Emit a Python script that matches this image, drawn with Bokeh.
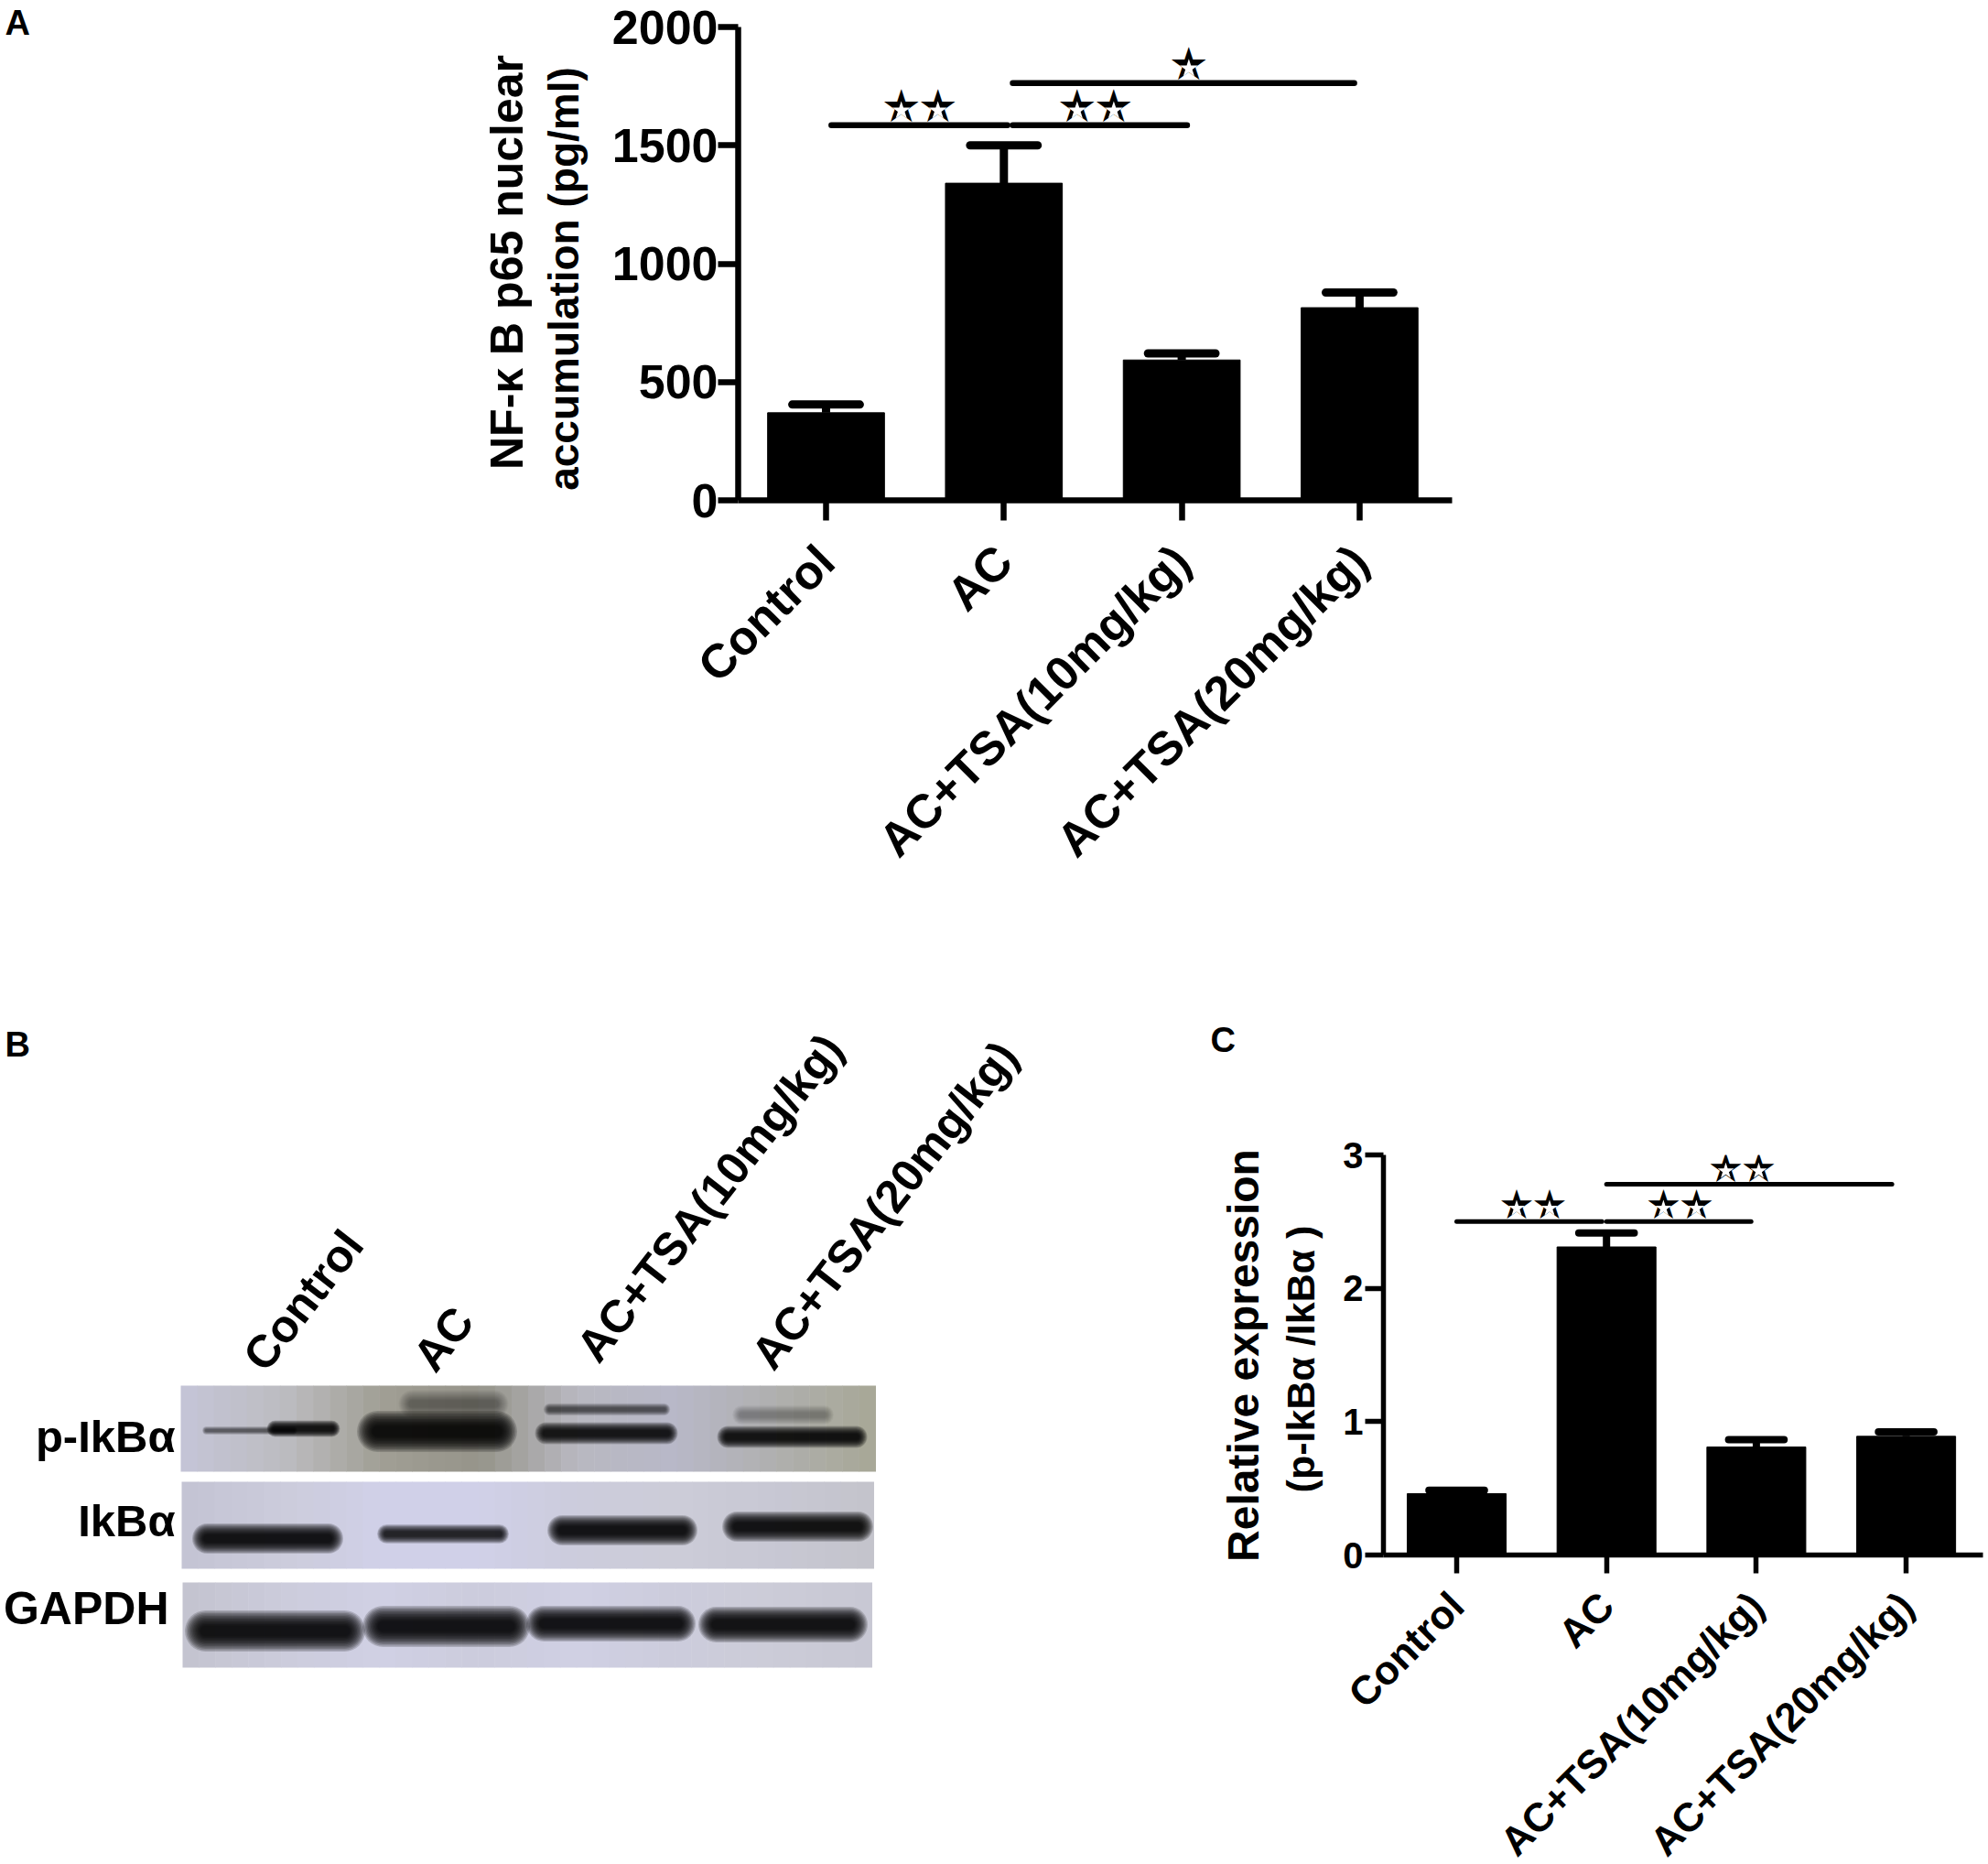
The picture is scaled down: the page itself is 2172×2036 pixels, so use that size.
from math import pi
from bokeh.plotting import figure
from bokeh.layouts import column, row
from bokeh.models import Label, Range1d, FixedTicker
from bokeh.embed import file_html
from bokeh.resources import INLINE

categories = ["Control", "AC", "AC+TSA(10mg/kg)", "AC+TSA(20mg/kg)"]
a_values = [370, 1340, 593, 814]
a_upper = [405, 1500, 621, 878]
a_ticks = [0, 500, 1000, 1500, 2000]
c_values = [0.46, 2.31, 0.81, 0.89]
c_upper = [0.486, 2.415, 0.865, 0.923]
c_ticks = [0, 1, 2, 3]

a_brackets = [(0.03, 1.02, 1585), (1.05, 2.03, 1585), (1.05, 2.97, 1763)]
a_stars = [(0.526, 1585, 2), (1.515, 1585, 2), (2.04, 1763, 1)]
c_brackets = [(0.0, 0.97, 2.50), (1.0, 1.965, 2.50), (1.0, 2.905, 2.78)]
c_stars = [(0.51, 2.50, 2), (1.49, 2.50, 2), (1.906, 2.78, 2)]

FONT = "Liberation Sans"


def bar_panel(width, height, ox, oy, fl, fr, ft, fb, c0, spacing, ymax, values, upper, ticks,
              bar_w, cap_w, axis_lw, err_lw, br_lw, tick_len, tick_font, label_font,
              brackets, stars, star_font, standoff, ystandoff):
    xr = Range1d((fl - c0) / spacing, (fr - c0) / spacing)
    yr = Range1d(0, ymax)
    p = figure(width=width, height=height, x_range=xr, y_range=yr, output_backend="svg",
               toolbar_location=None, min_border_left=fl - ox, min_border_right=ox + width - fr,
               min_border_top=ft - oy, min_border_bottom=oy + height - fb, align="start")
    p.grid.visible = False
    p.outline_line_color = None
    xs = list(range(len(values)))
    p.vbar(x=xs, top=values, bottom=0, width=bar_w, color="black")
    p.segment(x0=xs, y0=values, x1=xs, y1=upper, line_width=err_lw, color="black")
    p.segment(x0=[i - cap_w / 2 for i in xs], y0=upper, x1=[i + cap_w / 2 for i in xs], y1=upper,
              line_width=err_lw, color="black", line_cap="round")
    p.segment(x0=[b[0] for b in brackets], x1=[b[1] for b in brackets],
              y0=[b[2] for b in brackets], y1=[b[2] for b in brackets],
              line_width=br_lw, color="black", line_cap="round")
    # significance stars: real text, with a white core so they read as thick outlined stars
    per_px = ymax / (fb - ft)
    adv = star_font
    cx, cy = [], []
    for x, y, n in stars:
        p.add_layout(Label(x=x, y=y, text="★" * n, text_font="Noto Sans CJK SC", text_font_style="bold",
                           text_font_size=f"{star_font}px", text_align="center", text_baseline="bottom",
                           text_color="black", y_offset=-5))
        for k in range(n):
            cx.append(x + (k - (n - 1) / 2) * adv / spacing)
            cy.append(y + 0.40 * star_font * per_px)
    p.scatter(x=cx, y=cy, marker="star", size=star_font * 0.52, fill_color="white", line_color=None,
              level="overlay")
    xa, ya = p.xaxis[0], p.yaxis[0]
    xa.ticker = FixedTicker(ticks=xs)
    xa.major_label_overrides = {i: c for i, c in enumerate(categories)}
    xa.major_label_orientation = pi / 4
    xa.major_label_standoff = standoff
    xa.major_label_text_font = FONT
    xa.major_label_text_font_style = "bold"
    xa.major_label_text_font_size = f"{label_font}px"
    xa.major_label_text_color = "black"
    ya.ticker = FixedTicker(ticks=ticks)
    ya.major_label_text_font = FONT
    ya.major_label_text_font_style = "bold"
    ya.major_label_text_font_size = f"{tick_font}px"
    ya.major_label_text_color = "black"
    ya.major_label_standoff = ystandoff
    for ax in (xa, ya):
        ax.axis_line_width = axis_lw
        ax.axis_line_color = "black"
        ax.major_tick_line_width = axis_lw
        ax.major_tick_line_color = "black"
        ax.major_tick_in = 0
        ax.major_tick_out = tick_len
        ax.minor_tick_line_color = None
    p.background_fill_color = "white"
    return p


def px_label(p, fx, fy, x, y, text, size, angle=0, bold=True, align="center"):
    p.add_layout(Label(x=fx(x), y=fy(y), text=text, text_font=FONT,
                       text_font_style="bold" if bold else "normal",
                       text_font_size=f"{size}px", angle=angle, angle_units="deg",
                       text_align=align, text_baseline="middle", text_color="black"), "left")


# ---------- Panel A ----------
pA = bar_panel(2172, 1090, 0, 0, 806, 1586, 29, 546, 902, 194.3, 2000, a_values, a_upper, a_ticks,
               0.657, 0.38, 6.5, 9, 6.5, 22, 52, 52, a_brackets, a_stars, 40, 36, 0)
fxa = lambda x: (x - 902) / 194.3
fya = lambda y: (546 - y) / 517 * 2000
px_label(pA, fxa, fya, 553, 286, "NF-κ B p65 nuclear", 50, 90)
px_label(pA, fxa, fya, 615, 304, "accumulation (pg/ml)", 46, 90)
px_label(pA, fxa, fya, 5, 24, "A", 38, align="left")

# ---------- Panel B: blot image drawn as shaded strips ----------
strip_labels = ["p-IkBα", "IkBα", "GAPDH"]
label_y = [1568, 1660, 1756]
strip_top = [1513, 1618, 1728]
strip_bot = [1607, 1713, 1821]
strip_left = [197, 198, 199]
strip_right = [956, 954, 952]
anchor_colors = [
    [(196, 196, 214), (188, 188, 192), (160, 158, 148), (150, 148, 138), (184, 184, 192), (184, 184, 200), (176, 176, 176), (168, 168, 152)],
    [(196, 196, 212), (204, 204, 220), (208, 208, 232), (208, 208, 232), (204, 204, 220), (204, 204, 216), (200, 200, 212), (196, 196, 204)],
    [(196, 196, 208), (204, 204, 220), (208, 208, 228), (204, 204, 220), (208, 208, 228), (204, 204, 220), (204, 204, 216), (200, 200, 212)],
]
# x start, x end, y, thickness, darkness
bands = [
    (225, 320, 1562, 6, 0.35), (300, 362, 1560, 12, 0.95),
    (412, 542, 1563, 30, 1.0), (450, 540, 1533, 20, 0.2),
    (596, 728, 1565, 16, 0.9), (600, 725, 1539, 9, 0.4),
    (795, 935, 1569, 16, 0.95), (810, 900, 1545, 14, 0.15),
    (226, 358, 1680, 22, 1.0), (422, 545, 1675, 14, 0.75),
    (614, 745, 1671, 22, 1.0), (805, 937, 1667, 22, 1.0),
    (224, 376, 1781, 30, 1.0), (418, 556, 1776, 30, 1.0),
    (594, 740, 1773, 26, 1.0), (782, 928, 1774, 26, 1.0),
]

pB = figure(width=1125, height=978, x_range=Range1d(0, 1125), y_range=Range1d(2068, 1090),
            output_backend="svg", toolbar_location=None, min_border=0, align="start")
pB.axis.visible = False
pB.grid.visible = False
pB.outline_line_color = None


def strip_shades(anchors, n=42):
    out = []
    for i in range(n):
        t = i / (n - 1) * (len(anchors) - 1)
        j = min(int(t), len(anchors) - 2)
        f = t - j
        c = [round(anchors[j][k] * (1 - f) + anchors[j + 1][k] * f) for k in range(3)]
        out.append("#%02x%02x%02x" % tuple(c))
    return out


for t, b, l, r, anchors in zip(strip_top, strip_bot, strip_left, strip_right, anchor_colors):
    shades = strip_shades(anchors)
    w = (r - l) / len(shades)
    pB.quad(left=[l + i * w for i in range(len(shades))], right=[l + (i + 1) * w + 0.5 for i in range(len(shades))],
            top=[t] * len(shades), bottom=[b] * len(shades), fill_color=shades, line_color=None)
for scale in [1.5, 1.4, 1.3, 1.2, 1.1, 1.0, 0.9, 0.8, 0.7, 0.6, 0.5, 0.4]:
    pB.segment(x0=[b[0] for b in bands], x1=[b[1] for b in bands],
               y0=[b[2] for b in bands], y1=[b[2] for b in bands],
               line_width=[b[3] * scale for b in bands], line_cap="round", color="black",
               line_alpha=[0.17 * b[4] for b in bands])
for s, y in zip(strip_labels, label_y):
    pB.add_layout(Label(x=184 if s == "GAPDH" else 191, y=y, text=s, text_font=FONT, text_font_style="bold",
                        text_font_size="50px" if s == "GAPDH" else "49px", text_align="right",
                        text_baseline="middle", text_color="black"))
pB.add_layout(Label(x=5, y=1140, text="B", text_font=FONT, text_font_style="bold", text_font_size="38px",
                    text_align="left", text_baseline="middle", text_color="black"))
blot_label_x = [331, 484, 775, 966]
blot_label_y = [1420, 1462, 1308, 1316]
for s, x, y in zip(categories, blot_label_x, blot_label_y):
    pB.add_layout(Label(x=x, y=y, text=s, text_font=FONT, text_font_style="bold", text_font_size="50px",
                        angle=52, angle_units="deg", text_align="center", text_baseline="middle",
                        text_color="black"))

# ---------- Panel C ----------
pC = bar_panel(1047, 978, 1125, 1090, 1511, 2166, 1261, 1698, 1591, 163.7, 3, c_values, c_upper, c_ticks,
               0.66, 0.37, 5.5, 8, 5, 20, 40, 44, c_brackets, c_stars, 36, 28, 2)
fxc = lambda x: (x - 1591) / 163.7
fyc = lambda y: (1698 - y) / 437 * 3
px_label(pC, fxc, fyc, 1358, 1480, "Relative expression", 48, 90)
px_label(pC, fxc, fyc, 1420, 1484, "(p-IkBα /IkBα )", 43, 90)
px_label(pC, fxc, fyc, 1322, 1135, "C", 38, align="left")

layout = column(pA, row(column(pB), column(pC), spacing=0), spacing=0)
open("out.html", "w").write(file_html(layout, INLINE))
